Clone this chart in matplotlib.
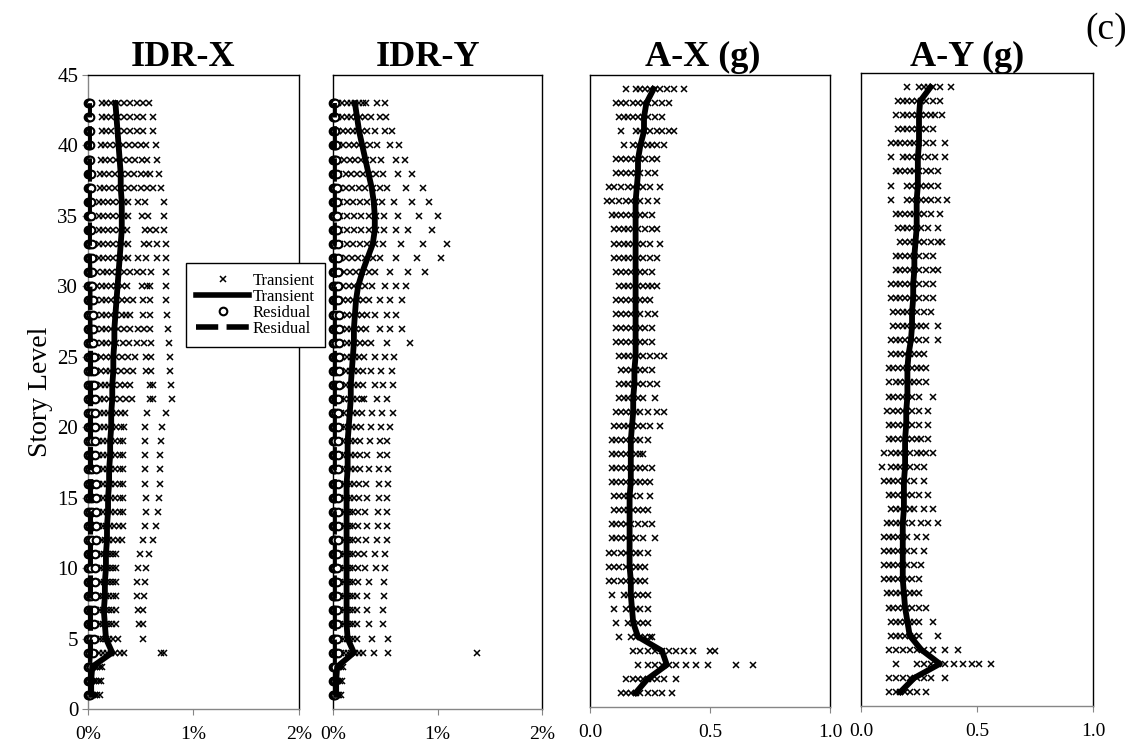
import matplotlib
matplotlib.use('Agg')
import matplotlib.pyplot as plt
from matplotlib.lines import Line2D

plt.rcParams['font.family'] = ['Liberation Serif', 'DejaVu Serif']

W, H = 1133, 747

# ---- data (drift in %, acceleration in g), row i = story i+1 ----
idr_x_transient = [
    [0.01, 0.02, 0.03, 0.04, 0.05, 0.07, 0.09, 0.11],
    [0.01, 0.02, 0.03, 0.04, 0.06, 0.08, 0.10, 0.12],
    [0.01, 0.02, 0.04, 0.05, 0.07, 0.09, 0.11, 0.13],
    [0.06, 0.10, 0.14, 0.18, 0.22, 0.26, 0.30, 0.34, 0.69, 0.72],
    [0.05, 0.08, 0.11, 0.14, 0.17, 0.20, 0.24, 0.28, 0.52],
    [0.05, 0.08, 0.11, 0.14, 0.17, 0.20, 0.23, 0.27, 0.48, 0.52],
    [0.05, 0.08, 0.11, 0.14, 0.17, 0.20, 0.23, 0.27, 0.47, 0.52],
    [0.05, 0.08, 0.11, 0.14, 0.17, 0.20, 0.24, 0.27, 0.46, 0.53],
    [0.05, 0.08, 0.12, 0.15, 0.18, 0.21, 0.24, 0.27, 0.46, 0.54],
    [0.06, 0.09, 0.12, 0.15, 0.18, 0.21, 0.24, 0.27, 0.47, 0.55],
    [0.06, 0.09, 0.12, 0.15, 0.18, 0.21, 0.24, 0.27, 0.49, 0.58],
    [0.06, 0.09, 0.13, 0.16, 0.20, 0.24, 0.28, 0.32, 0.52, 0.62],
    [0.06, 0.10, 0.14, 0.17, 0.21, 0.25, 0.29, 0.33, 0.54, 0.64],
    [0.06, 0.10, 0.14, 0.18, 0.22, 0.26, 0.30, 0.33, 0.55, 0.66],
    [0.06, 0.10, 0.14, 0.18, 0.22, 0.26, 0.30, 0.33, 0.55, 0.67],
    [0.06, 0.10, 0.14, 0.18, 0.22, 0.26, 0.30, 0.33, 0.54, 0.68],
    [0.06, 0.10, 0.14, 0.18, 0.22, 0.26, 0.30, 0.33, 0.54, 0.68],
    [0.06, 0.10, 0.14, 0.18, 0.22, 0.26, 0.30, 0.33, 0.54, 0.68],
    [0.06, 0.10, 0.14, 0.18, 0.22, 0.26, 0.30, 0.33, 0.54, 0.69],
    [0.07, 0.11, 0.15, 0.19, 0.23, 0.27, 0.31, 0.34, 0.54, 0.70],
    [0.07, 0.11, 0.15, 0.19, 0.23, 0.27, 0.31, 0.35, 0.56, 0.74],
    [0.07, 0.11, 0.15, 0.20, 0.25, 0.30, 0.36, 0.42, 0.59, 0.62, 0.80],
    [0.07, 0.12, 0.16, 0.20, 0.25, 0.30, 0.35, 0.40, 0.59, 0.62, 0.79],
    [0.08, 0.12, 0.17, 0.21, 0.26, 0.31, 0.37, 0.43, 0.55, 0.60, 0.78],
    [0.08, 0.12, 0.17, 0.22, 0.27, 0.32, 0.38, 0.45, 0.55, 0.60, 0.78],
    [0.08, 0.13, 0.17, 0.22, 0.27, 0.33, 0.39, 0.46, 0.53, 0.60, 0.77],
    [0.08, 0.13, 0.17, 0.22, 0.28, 0.34, 0.40, 0.47, 0.53, 0.59, 0.76],
    [0.08, 0.13, 0.17, 0.22, 0.27, 0.32, 0.36, 0.40, 0.52, 0.59, 0.75],
    [0.08, 0.13, 0.17, 0.22, 0.27, 0.32, 0.37, 0.43, 0.52, 0.59, 0.74],
    [0.09, 0.13, 0.17, 0.22, 0.27, 0.32, 0.37, 0.51, 0.56, 0.59, 0.74],
    [0.09, 0.14, 0.18, 0.23, 0.28, 0.34, 0.40, 0.46, 0.52, 0.60, 0.74],
    [0.10, 0.14, 0.19, 0.24, 0.29, 0.34, 0.38, 0.47, 0.55, 0.65, 0.74],
    [0.10, 0.14, 0.19, 0.24, 0.29, 0.34, 0.38, 0.53, 0.58, 0.65, 0.74],
    [0.10, 0.14, 0.19, 0.24, 0.29, 0.33, 0.37, 0.54, 0.59, 0.64, 0.72],
    [0.10, 0.14, 0.19, 0.24, 0.29, 0.34, 0.38, 0.51, 0.57, 0.72],
    [0.10, 0.14, 0.19, 0.24, 0.29, 0.34, 0.38, 0.47, 0.54, 0.72],
    [0.11, 0.15, 0.20, 0.26, 0.32, 0.38, 0.44, 0.50, 0.56, 0.62, 0.69],
    [0.11, 0.15, 0.20, 0.26, 0.32, 0.38, 0.44, 0.50, 0.55, 0.59, 0.67],
    [0.12, 0.16, 0.21, 0.27, 0.33, 0.39, 0.45, 0.51, 0.56, 0.65],
    [0.12, 0.16, 0.21, 0.27, 0.33, 0.39, 0.45, 0.50, 0.55, 0.64],
    [0.13, 0.17, 0.22, 0.28, 0.34, 0.40, 0.46, 0.52, 0.62],
    [0.13, 0.17, 0.22, 0.28, 0.34, 0.40, 0.46, 0.52, 0.62],
    [0.13, 0.17, 0.22, 0.28, 0.34, 0.40, 0.46, 0.52, 0.58],
]
idr_x_mean = [0.03, 0.03, 0.04, 0.23, 0.17, 0.16, 0.15, 0.16, 0.16, 0.17,
              0.17, 0.18, 0.18, 0.19, 0.19, 0.20, 0.20, 0.21, 0.21, 0.22,
              0.22, 0.23, 0.23, 0.24, 0.24, 0.25, 0.25, 0.26, 0.27, 0.28,
              0.29, 0.30, 0.31, 0.32, 0.32, 0.32, 0.31, 0.31, 0.30, 0.29,
              0.28, 0.27, 0.26]
idr_x_residual = [
    [0.00, 0.01, 0.02], [0.00, 0.01, 0.02], [0.00, 0.01, 0.03],
    [0.00, 0.02, 0.05], [0.00, 0.01, 0.03, 0.06], [0.00, 0.01, 0.03, 0.06],
    [0.00, 0.01, 0.03, 0.06], [0.00, 0.01, 0.03, 0.07], [0.00, 0.01, 0.03, 0.07],
    [0.00, 0.01, 0.03, 0.07], [0.00, 0.01, 0.03, 0.07], [0.00, 0.02, 0.04, 0.08],
    [0.00, 0.02, 0.04, 0.08], [0.00, 0.02, 0.04, 0.08], [0.00, 0.02, 0.04, 0.08],
    [0.00, 0.02, 0.04, 0.08], [0.00, 0.02, 0.04, 0.08], [0.00, 0.02, 0.04, 0.07],
    [0.00, 0.02, 0.04, 0.07], [0.00, 0.02, 0.04, 0.07], [0.00, 0.02, 0.04, 0.07],
    [0.00, 0.02, 0.04, 0.07], [0.00, 0.02, 0.04, 0.06], [0.00, 0.02, 0.04, 0.06],
    [0.00, 0.02, 0.04, 0.06], [0.00, 0.02, 0.03, 0.05], [0.00, 0.01, 0.03, 0.05],
    [0.00, 0.01, 0.03, 0.05], [0.00, 0.01, 0.03, 0.05], [0.00, 0.01, 0.03, 0.04],
    [0.00, 0.01, 0.02, 0.04], [0.00, 0.01, 0.02, 0.04], [0.00, 0.01, 0.02, 0.04],
    [0.00, 0.01, 0.02, 0.03], [0.00, 0.01, 0.02, 0.03], [0.00, 0.01, 0.02, 0.03],
    [0.00, 0.01, 0.02, 0.03], [0.00, 0.01, 0.02, 0.03], [0.00, 0.01, 0.02],
    [0.00, 0.01, 0.02], [0.00, 0.01, 0.02], [0.00, 0.01, 0.02], [0.00, 0.01, 0.02],
]
idr_x_res_mean = [0.01, 0.01, 0.01, 0.02, 0.02, 0.02, 0.02, 0.02, 0.02, 0.02,
                  0.02, 0.02, 0.02, 0.02, 0.02, 0.02, 0.02, 0.02, 0.02, 0.02,
                  0.02, 0.02, 0.02, 0.02, 0.02, 0.02, 0.015, 0.015, 0.015, 0.015,
                  0.015, 0.01, 0.01, 0.01, 0.01, 0.01, 0.01, 0.01, 0.01, 0.01,
                  0.01, 0.01, 0.01]

idr_y_transient = [
    [0.01, 0.02, 0.03, 0.04, 0.05, 0.06, 0.08],
    [0.01, 0.02, 0.03, 0.04, 0.05, 0.07, 0.09],
    [0.01, 0.02, 0.03, 0.05, 0.06, 0.08, 0.10],
    [0.05, 0.08, 0.11, 0.14, 0.17, 0.21, 0.25, 0.29, 0.39, 0.53, 1.38],
    [0.04, 0.07, 0.10, 0.13, 0.16, 0.19, 0.23, 0.37, 0.53],
    [0.04, 0.07, 0.10, 0.13, 0.16, 0.19, 0.23, 0.34, 0.48],
    [0.04, 0.07, 0.10, 0.13, 0.16, 0.19, 0.23, 0.33, 0.48],
    [0.04, 0.07, 0.10, 0.13, 0.16, 0.19, 0.23, 0.33, 0.49],
    [0.04, 0.07, 0.10, 0.13, 0.16, 0.19, 0.24, 0.34, 0.49],
    [0.04, 0.07, 0.10, 0.13, 0.16, 0.19, 0.24, 0.31, 0.41, 0.50],
    [0.04, 0.07, 0.10, 0.13, 0.16, 0.19, 0.24, 0.30, 0.40, 0.50],
    [0.04, 0.07, 0.10, 0.13, 0.16, 0.19, 0.24, 0.32, 0.42, 0.52],
    [0.04, 0.07, 0.10, 0.13, 0.16, 0.19, 0.24, 0.33, 0.43, 0.52],
    [0.04, 0.07, 0.10, 0.13, 0.16, 0.19, 0.24, 0.31, 0.43, 0.52],
    [0.04, 0.07, 0.10, 0.13, 0.16, 0.20, 0.25, 0.33, 0.44, 0.52],
    [0.04, 0.07, 0.10, 0.13, 0.16, 0.20, 0.25, 0.32, 0.44, 0.53],
    [0.04, 0.07, 0.10, 0.13, 0.17, 0.21, 0.26, 0.34, 0.44, 0.53],
    [0.04, 0.07, 0.10, 0.13, 0.17, 0.21, 0.26, 0.33, 0.45, 0.52],
    [0.04, 0.07, 0.10, 0.14, 0.17, 0.21, 0.26, 0.35, 0.45, 0.52],
    [0.05, 0.08, 0.11, 0.14, 0.18, 0.22, 0.27, 0.36, 0.46, 0.55],
    [0.05, 0.08, 0.11, 0.15, 0.19, 0.23, 0.28, 0.37, 0.47, 0.57],
    [0.05, 0.08, 0.11, 0.15, 0.19, 0.23, 0.28, 0.30, 0.42, 0.52],
    [0.05, 0.08, 0.12, 0.16, 0.20, 0.24, 0.29, 0.40, 0.48, 0.57],
    [0.05, 0.08, 0.12, 0.16, 0.20, 0.24, 0.29, 0.36, 0.46, 0.56],
    [0.05, 0.09, 0.13, 0.17, 0.21, 0.25, 0.30, 0.40, 0.50, 0.58],
    [0.05, 0.09, 0.13, 0.17, 0.21, 0.26, 0.31, 0.36, 0.52, 0.74],
    [0.05, 0.09, 0.13, 0.17, 0.22, 0.27, 0.32, 0.45, 0.55, 0.66],
    [0.05, 0.09, 0.13, 0.18, 0.23, 0.28, 0.33, 0.40, 0.52, 0.60],
    [0.06, 0.10, 0.14, 0.19, 0.24, 0.29, 0.34, 0.45, 0.55, 0.66],
    [0.06, 0.10, 0.15, 0.20, 0.25, 0.31, 0.37, 0.50, 0.60, 0.70],
    [0.06, 0.11, 0.16, 0.22, 0.28, 0.34, 0.40, 0.55, 0.72, 0.88],
    [0.07, 0.12, 0.18, 0.24, 0.31, 0.38, 0.45, 0.60, 0.80, 1.03],
    [0.07, 0.13, 0.19, 0.26, 0.33, 0.40, 0.48, 0.65, 0.86, 1.09],
    [0.07, 0.13, 0.20, 0.27, 0.34, 0.41, 0.49, 0.60, 0.72, 0.95],
    [0.07, 0.13, 0.20, 0.27, 0.34, 0.41, 0.49, 0.62, 0.82, 1.00],
    [0.07, 0.13, 0.19, 0.26, 0.33, 0.40, 0.47, 0.58, 0.76, 0.92],
    [0.07, 0.12, 0.18, 0.25, 0.31, 0.38, 0.45, 0.52, 0.70, 0.86],
    [0.06, 0.12, 0.17, 0.23, 0.29, 0.35, 0.41, 0.48, 0.62, 0.76],
    [0.06, 0.11, 0.16, 0.21, 0.27, 0.32, 0.38, 0.46, 0.60, 0.69],
    [0.06, 0.10, 0.15, 0.20, 0.25, 0.30, 0.35, 0.42, 0.55, 0.63],
    [0.05, 0.10, 0.14, 0.19, 0.23, 0.28, 0.33, 0.40, 0.50, 0.56],
    [0.05, 0.09, 0.13, 0.17, 0.22, 0.26, 0.31, 0.36, 0.45, 0.51],
    [0.05, 0.09, 0.13, 0.17, 0.21, 0.25, 0.29, 0.32, 0.42, 0.50],
]
idr_y_mean = [0.03, 0.03, 0.04, 0.20, 0.14, 0.13, 0.13, 0.13, 0.13, 0.13,
              0.13, 0.13, 0.13, 0.13, 0.13, 0.13, 0.14, 0.14, 0.14, 0.15,
              0.16, 0.17, 0.17, 0.18, 0.19, 0.20, 0.20, 0.21, 0.22, 0.24,
              0.28, 0.33, 0.38, 0.40, 0.40, 0.39, 0.37, 0.34, 0.31, 0.28,
              0.25, 0.23, 0.21]
idr_y_residual = [
    [0.00, 0.01, 0.02], [0.00, 0.01, 0.02], [0.00, 0.01, 0.02],
    [0.00, 0.01, 0.03, 0.05], [0.00, 0.01, 0.02, 0.04], [0.00, 0.01, 0.02, 0.04],
    [0.00, 0.01, 0.02, 0.04], [0.00, 0.01, 0.02, 0.04], [0.00, 0.01, 0.02, 0.04],
    [0.00, 0.01, 0.02, 0.04], [0.00, 0.01, 0.02, 0.04], [0.00, 0.01, 0.02, 0.05],
    [0.00, 0.01, 0.02, 0.05], [0.00, 0.01, 0.02, 0.05], [0.00, 0.01, 0.02, 0.05],
    [0.00, 0.01, 0.02, 0.05], [0.00, 0.01, 0.02, 0.05], [0.00, 0.01, 0.02, 0.05],
    [0.00, 0.01, 0.02, 0.05], [0.00, 0.01, 0.02, 0.05], [0.00, 0.01, 0.03, 0.05],
    [0.00, 0.01, 0.03, 0.05], [0.00, 0.01, 0.03, 0.06], [0.00, 0.01, 0.03, 0.06],
    [0.00, 0.01, 0.03, 0.06], [0.00, 0.01, 0.03, 0.06], [0.00, 0.01, 0.03, 0.06],
    [0.00, 0.01, 0.03, 0.06], [0.00, 0.01, 0.03, 0.05], [0.00, 0.01, 0.03, 0.05],
    [0.00, 0.01, 0.02, 0.05], [0.00, 0.01, 0.02, 0.05], [0.00, 0.01, 0.02, 0.05],
    [0.00, 0.01, 0.02, 0.04], [0.00, 0.01, 0.02, 0.04], [0.00, 0.01, 0.02, 0.04],
    [0.00, 0.01, 0.02, 0.04], [0.00, 0.01, 0.02, 0.04], [0.00, 0.01, 0.02, 0.03],
    [0.00, 0.01, 0.02, 0.03], [0.00, 0.01, 0.02], [0.00, 0.01, 0.02], [0.00, 0.01, 0.02],
]
idr_y_res_mean = [0.01] * 43

ax_transient = [
    [0.13, 0.15, 0.17, 0.19, 0.21, 0.24, 0.27, 0.30, 0.34],
    [0.15, 0.18, 0.20, 0.22, 0.24, 0.26, 0.28, 0.31, 0.36],
    [0.20, 0.24, 0.27, 0.30, 0.33, 0.36, 0.40, 0.44, 0.49, 0.61, 0.68],
    [0.18, 0.21, 0.24, 0.27, 0.30, 0.33, 0.36, 0.39, 0.43, 0.50, 0.52],
    [0.12, 0.17, 0.19, 0.21, 0.23, 0.25, 0.26],
    [0.11, 0.16, 0.18, 0.20, 0.22, 0.24],
    [0.10, 0.15, 0.17, 0.19, 0.21, 0.24],
    [0.09, 0.14, 0.16, 0.18, 0.20, 0.22, 0.24],
    [0.08, 0.10, 0.13, 0.15, 0.17, 0.19, 0.21, 0.23],
    [0.08, 0.10, 0.12, 0.15, 0.17, 0.19, 0.21, 0.23],
    [0.08, 0.10, 0.13, 0.15, 0.17, 0.19, 0.21, 0.24],
    [0.09, 0.11, 0.13, 0.15, 0.17, 0.19, 0.22, 0.27],
    [0.09, 0.11, 0.13, 0.15, 0.17, 0.20, 0.23, 0.26],
    [0.10, 0.12, 0.14, 0.16, 0.18, 0.20, 0.22, 0.24],
    [0.10, 0.12, 0.14, 0.16, 0.18, 0.21, 0.25],
    [0.09, 0.11, 0.13, 0.15, 0.17, 0.19, 0.21, 0.23, 0.25],
    [0.09, 0.11, 0.13, 0.15, 0.17, 0.19, 0.21, 0.23, 0.26],
    [0.09, 0.11, 0.13, 0.15, 0.17, 0.19, 0.21, 0.22],
    [0.09, 0.11, 0.13, 0.15, 0.17, 0.19, 0.21, 0.24],
    [0.10, 0.12, 0.14, 0.16, 0.18, 0.20, 0.22, 0.25, 0.29],
    [0.11, 0.13, 0.15, 0.17, 0.19, 0.21, 0.24, 0.28, 0.31],
    [0.12, 0.14, 0.16, 0.18, 0.20, 0.22, 0.27],
    [0.12, 0.14, 0.16, 0.18, 0.20, 0.22, 0.25, 0.28],
    [0.13, 0.15, 0.17, 0.19, 0.21, 0.23, 0.26],
    [0.12, 0.14, 0.16, 0.18, 0.20, 0.22, 0.25, 0.28, 0.31],
    [0.11, 0.13, 0.15, 0.17, 0.19, 0.21, 0.23, 0.26],
    [0.11, 0.13, 0.15, 0.17, 0.19, 0.21, 0.23, 0.26],
    [0.11, 0.13, 0.15, 0.17, 0.19, 0.21, 0.24, 0.27],
    [0.11, 0.13, 0.15, 0.17, 0.19, 0.21, 0.23, 0.25],
    [0.12, 0.14, 0.16, 0.18, 0.20, 0.22, 0.24, 0.26, 0.28],
    [0.11, 0.13, 0.15, 0.17, 0.19, 0.21, 0.23, 0.26],
    [0.10, 0.12, 0.14, 0.16, 0.18, 0.20, 0.22, 0.25, 0.28],
    [0.10, 0.12, 0.14, 0.16, 0.18, 0.20, 0.22, 0.25, 0.29],
    [0.10, 0.12, 0.14, 0.16, 0.18, 0.20, 0.23, 0.26, 0.28],
    [0.09, 0.11, 0.13, 0.15, 0.17, 0.19, 0.21, 0.23, 0.26],
    [0.07, 0.09, 0.12, 0.15, 0.17, 0.19, 0.21, 0.24, 0.28],
    [0.08, 0.10, 0.13, 0.16, 0.18, 0.20, 0.22, 0.25, 0.29],
    [0.11, 0.13, 0.15, 0.17, 0.19, 0.21, 0.24, 0.27],
    [0.11, 0.13, 0.15, 0.17, 0.19, 0.21, 0.23, 0.26, 0.28],
    [0.14, 0.18, 0.20, 0.22, 0.24, 0.26, 0.28, 0.31],
    [0.13, 0.19, 0.21, 0.23, 0.25, 0.28, 0.30, 0.33, 0.35],
    [0.12, 0.14, 0.16, 0.18, 0.20, 0.22, 0.24, 0.27, 0.30],
    [0.11, 0.13, 0.15, 0.18, 0.20, 0.22, 0.24, 0.27, 0.30, 0.33],
    [0.15, 0.19, 0.21, 0.23, 0.25, 0.27, 0.29, 0.32, 0.35, 0.39],
]
ax_mean = [0.19, 0.24, 0.32, 0.30, 0.20, 0.18, 0.175, 0.17, 0.17, 0.165,
           0.165, 0.165, 0.165, 0.165, 0.165, 0.17, 0.17, 0.17, 0.17, 0.175,
           0.18, 0.18, 0.185, 0.185, 0.19, 0.19, 0.19, 0.19, 0.19, 0.19,
           0.19, 0.19, 0.19, 0.19, 0.19, 0.19, 0.195, 0.20, 0.20, 0.21,
           0.225, 0.225, 0.235, 0.265]

ay_transient = [
    [0.12, 0.15, 0.17, 0.19, 0.21, 0.24, 0.28],
    [0.12, 0.15, 0.18, 0.21, 0.24, 0.27, 0.30, 0.36],
    [0.15, 0.24, 0.27, 0.30, 0.33, 0.36, 0.40, 0.44, 0.48, 0.51, 0.56],
    [0.12, 0.15, 0.18, 0.21, 0.24, 0.27, 0.31, 0.36, 0.42],
    [0.13, 0.15, 0.17, 0.19, 0.21, 0.23, 0.25, 0.33],
    [0.13, 0.15, 0.17, 0.19, 0.21, 0.23, 0.25, 0.31],
    [0.12, 0.14, 0.16, 0.18, 0.20, 0.22, 0.25, 0.28],
    [0.11, 0.13, 0.15, 0.17, 0.19, 0.21, 0.23, 0.25],
    [0.10, 0.12, 0.14, 0.16, 0.18, 0.20, 0.22, 0.25],
    [0.10, 0.12, 0.14, 0.16, 0.18, 0.20, 0.23, 0.26],
    [0.10, 0.12, 0.14, 0.16, 0.18, 0.20, 0.23, 0.27],
    [0.10, 0.12, 0.14, 0.16, 0.18, 0.20, 0.24, 0.28],
    [0.11, 0.13, 0.15, 0.17, 0.19, 0.22, 0.26, 0.29, 0.33],
    [0.13, 0.15, 0.17, 0.19, 0.21, 0.23, 0.27, 0.31],
    [0.12, 0.14, 0.16, 0.18, 0.20, 0.22, 0.25, 0.29],
    [0.10, 0.12, 0.14, 0.16, 0.18, 0.20, 0.23, 0.27],
    [0.09, 0.13, 0.15, 0.17, 0.19, 0.21, 0.24, 0.27],
    [0.10, 0.13, 0.15, 0.17, 0.19, 0.21, 0.24, 0.26, 0.28, 0.31],
    [0.12, 0.14, 0.16, 0.18, 0.20, 0.22, 0.24, 0.26, 0.29],
    [0.12, 0.14, 0.16, 0.18, 0.20, 0.22, 0.25, 0.29],
    [0.11, 0.14, 0.16, 0.18, 0.20, 0.22, 0.25, 0.29],
    [0.12, 0.14, 0.16, 0.18, 0.20, 0.22, 0.25, 0.31],
    [0.12, 0.15, 0.17, 0.19, 0.21, 0.23, 0.25, 0.28],
    [0.12, 0.14, 0.16, 0.18, 0.20, 0.22, 0.24, 0.26, 0.28],
    [0.13, 0.15, 0.17, 0.19, 0.21, 0.23, 0.25, 0.27],
    [0.13, 0.15, 0.17, 0.19, 0.21, 0.23, 0.25, 0.28, 0.33],
    [0.14, 0.16, 0.18, 0.20, 0.22, 0.24, 0.26, 0.28, 0.33],
    [0.14, 0.16, 0.18, 0.20, 0.22, 0.24, 0.27, 0.30],
    [0.13, 0.15, 0.17, 0.19, 0.21, 0.23, 0.25, 0.28, 0.31],
    [0.13, 0.15, 0.17, 0.19, 0.21, 0.23, 0.25, 0.28, 0.31],
    [0.15, 0.17, 0.19, 0.21, 0.23, 0.25, 0.28, 0.31, 0.33],
    [0.15, 0.17, 0.19, 0.21, 0.23, 0.25, 0.28, 0.31],
    [0.17, 0.19, 0.21, 0.23, 0.25, 0.27, 0.30, 0.33, 0.35],
    [0.16, 0.18, 0.20, 0.22, 0.24, 0.26, 0.29, 0.33],
    [0.15, 0.17, 0.19, 0.21, 0.23, 0.25, 0.27, 0.30, 0.34],
    [0.13, 0.20, 0.22, 0.24, 0.26, 0.28, 0.30, 0.33, 0.37],
    [0.13, 0.20, 0.22, 0.24, 0.26, 0.28, 0.30, 0.33],
    [0.15, 0.17, 0.19, 0.21, 0.23, 0.25, 0.28, 0.30, 0.33],
    [0.13, 0.18, 0.20, 0.22, 0.24, 0.26, 0.29, 0.32, 0.36],
    [0.13, 0.15, 0.17, 0.19, 0.21, 0.23, 0.25, 0.28, 0.31, 0.36],
    [0.16, 0.18, 0.20, 0.22, 0.24, 0.26, 0.28, 0.31],
    [0.15, 0.18, 0.20, 0.22, 0.24, 0.26, 0.28, 0.30, 0.32, 0.35],
    [0.16, 0.18, 0.20, 0.22, 0.24, 0.26, 0.28, 0.31, 0.34],
    [0.20, 0.25, 0.27, 0.29, 0.31, 0.34, 0.39],
]
ay_mean = [0.17, 0.23, 0.34, 0.26, 0.21, 0.20, 0.19, 0.185, 0.18, 0.18,
           0.18, 0.18, 0.18, 0.185, 0.185, 0.185, 0.19, 0.19, 0.19, 0.195,
           0.195, 0.20, 0.20, 0.20, 0.205, 0.215, 0.22, 0.22, 0.225, 0.225,
           0.23, 0.23, 0.235, 0.24, 0.24, 0.24, 0.245, 0.245, 0.245, 0.25,
           0.25, 0.25, 0.255, 0.30]

titles = ['IDR-X', 'IDR-Y', 'A-X (g)', 'A-Y (g)']
title_x = [183, 428, 703, 967]

# ---- figure ----
fig = plt.figure(figsize=(W / 100, H / 100), dpi=100)


def px_axes(left, right, top, bottom):
    return fig.add_axes([left / W, 1 - bottom / H, (right - left) / W, (bottom - top) / H])


def draw_points(ax, rows, marker, **kw):
    xs, ys = [], []
    for i, row in enumerate(rows):
        xs += row
        ys += [i + 1] * len(row)
    ax.plot(xs, ys, linestyle='none', marker=marker, color='black', clip_on=False, **kw)


def style_box(ax, left_grey):
    for s in ['top', 'right']:
        ax.spines[s].set_color('black')
        ax.spines[s].set_linewidth(1.0)
    ax.spines['bottom'].set_color('#868686')
    ax.spines['bottom'].set_linewidth(1.0)
    ax.spines['left'].set_color('#868686' if left_grey else 'black')
    ax.spines['left'].set_linewidth(1.0)


axes = [px_axes(88, 299, 75, 709), px_axes(333, 542, 75, 709),
        px_axes(590, 830, 75, 707), px_axes(861, 1093, 73, 706)]

x_style = dict(marker='x', markersize=5, markeredgewidth=1.1)
o_style = dict(markersize=5.5, markerfacecolor='white', markeredgecolor='black', markeredgewidth=1.5)
dash = (0, (4, 1.5))

drift_sets = [(idr_x_transient, idr_x_mean, idr_x_residual, idr_x_res_mean),
              (idr_y_transient, idr_y_mean, idr_y_residual, idr_y_res_mean)]
for ax, (tr, mn, rs, rm) in zip(axes[:2], drift_sets):
    stories = list(range(1, len(mn) + 1))
    draw_points(ax, tr, 'x', markersize=5, markeredgewidth=1.1, zorder=2)
    draw_points(ax, rs, 'o', zorder=3, **o_style)
    ax.plot(mn, stories, color='black', lw=4.2, zorder=4)
    ax.plot(rm, stories, color='black', lw=4.2, ls=dash, zorder=4)
    ax.set_xlim(0, 2)
    ax.set_xticks([0, 1, 2])
    ax.set_xticklabels(['0%', '1%', '2%'])

for ax, (tr, mn) in zip(axes[2:], [(ax_transient, ax_mean), (ay_transient, ay_mean)]):
    stories = list(range(1, len(mn) + 1))
    draw_points(ax, tr, 'x', markersize=5, markeredgewidth=1.1, zorder=2)
    ax.plot(mn, stories, color='black', lw=4.2, zorder=4)
    ax.set_xlim(0, 1)
    ax.set_xticks([0, 0.5, 1.0])
    ax.set_xticklabels(['0.0', '0.5', '1.0'])

for i, ax in enumerate(axes):
    ax.set_ylim(0, 45)
    style_box(ax, i == 0)
    ax.tick_params(axis='x', direction='out', length=4, color='#868686',
                   labelsize=14, pad=8)
    if i == 0:
        ax.set_yticks(range(0, 46, 5))
        ax.tick_params(axis='y', direction='out', length=4, color='#868686',
                       labelsize=15, pad=3)
        ax.set_ylabel('Story Level', fontsize=20, labelpad=3)
    else:
        ax.set_yticks([])
    fig.text(title_x[i] / W, 1 - 57 / H, titles[i], fontsize=26, fontweight='bold',
             ha='center', va='center')

fig.text(1106 / W, 1 - 30 / H, '(c)', fontsize=27, ha='center', va='center')

handles = [Line2D([], [], ls='none', color='black', **x_style),
           Line2D([], [], color='black', lw=4),
           Line2D([], [], ls='none', marker='o', **o_style),
           Line2D([], [], color='black', lw=4, ls=dash)]
leg = axes[0].legend(handles, ['Transient', 'Transient', 'Residual', 'Residual'],
                     loc='upper left', bbox_to_anchor=(186 / W, 1 - 263 / H),
                     bbox_transform=fig.transFigure, borderaxespad=0,
                     fontsize=12, handlelength=3.2, handletextpad=0.2,
                     labelspacing=0.0, borderpad=0.6, fancybox=False,
                     framealpha=1, edgecolor='black')
leg.get_frame().set_linewidth(1.0)
leg.set_zorder(10)

fig.savefig('out.png', dpi=100)
